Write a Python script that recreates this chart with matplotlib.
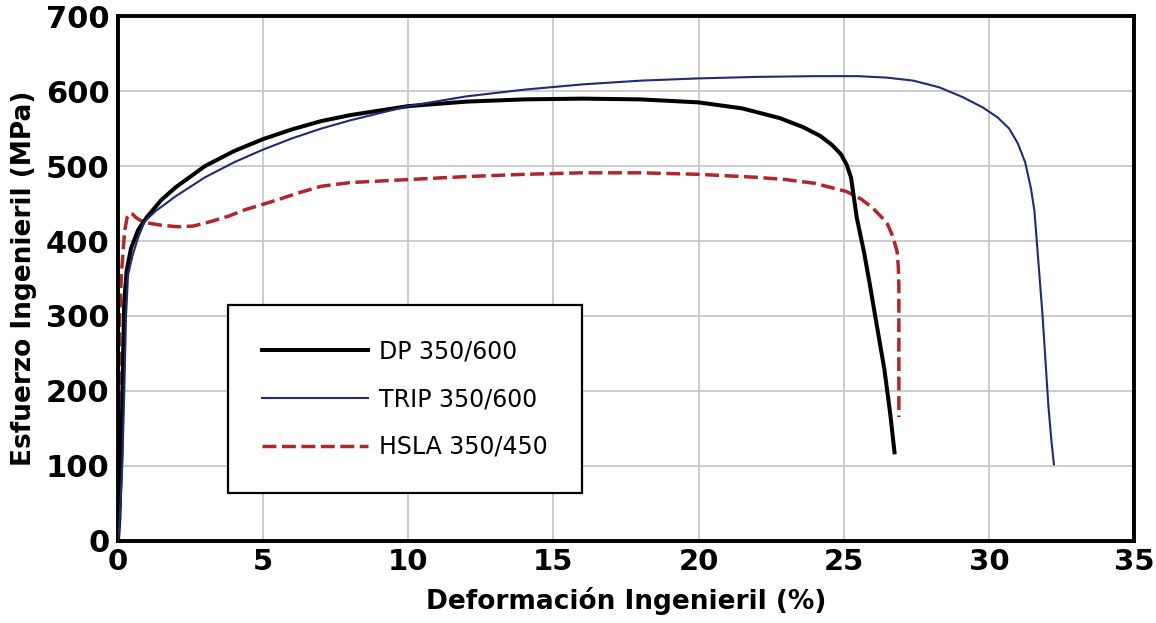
import matplotlib
matplotlib.use('Agg')
import matplotlib.pyplot as plt

# Curvas esfuerzo-deformacion
dp_x = [0, 0.05, 0.12, 0.18, 0.22, 0.3, 0.45, 0.7, 1.0, 1.5, 2, 3, 4, 5, 6, 7, 8, 10, 12, 14,
        16, 18, 20, 21.5, 22.8, 23.6, 24.2, 24.6, 24.9, 25.1, 25.25, 25.45, 25.7, 25.9, 26.15,
        26.4, 26.6, 26.75]
dp_y = [0, 30, 120, 250, 320, 360, 390, 415, 432, 455, 472, 500, 520, 536, 549, 560, 568, 580, 586, 589,
        590, 589, 585, 577, 564, 552, 540, 528, 516, 502, 485, 431, 385, 342, 285,
        229, 170, 118]

trip_x = [0, 0.05, 0.15, 0.22, 0.28, 0.35, 0.5, 0.7, 0.92, 1.3, 2, 3, 4, 5, 6, 7, 8, 10, 12, 14,
          16, 18, 20, 22, 24, 25.5, 26.5, 27.4, 28.3, 29.1, 29.8, 30.3, 30.7, 31.0, 31.25, 31.45,
          31.57, 31.65, 31.75, 31.85, 31.95, 32.05, 32.15, 32.24]
trip_y = [0, 20, 100, 200, 300, 355, 380, 405, 426, 440, 460, 485, 505, 522, 537, 550, 561, 580, 593, 602,
          609, 614, 617, 619, 620, 620, 618, 614, 605, 592, 578, 565, 550, 530, 505, 470,
          440, 400, 350, 300, 240, 180, 135, 102]

hsla_x = [0, 0.03, 0.06, 0.12, 0.23, 0.32, 0.4, 0.5, 0.63, 0.8, 1.04, 1.5, 2.07, 2.6, 3.2, 3.8, 4.4,
          5.0, 5.5, 6.2, 7, 8, 9, 10, 12, 14, 16, 18, 20, 22, 23, 24, 25.1, 25.6, 26.0, 26.3,
          26.5, 26.65, 26.75, 26.84, 26.88, 26.9, 26.9]
hsla_y = [0, 170, 300, 355, 413, 432, 437, 436, 431, 427, 424, 421, 419, 420, 426, 433, 442,
          449, 455, 464, 473, 478, 480, 482, 486, 489, 491, 491, 489, 485, 482, 477, 466, 456, 444, 432,
          423, 410, 398, 386, 365, 341, 165]

labels = ['DP 350/600', 'TRIP 350/600', 'HSLA 350/450']
x_ticks = [0, 5, 10, 15, 20, 25, 30, 35]
y_ticks = [0, 100, 200, 300, 400, 500, 600, 700]

fig = plt.figure(figsize=(11.56, 6.23), dpi=100)
ax = fig.add_axes([0.102, 0.132, 0.879, 0.842])

ax.plot(dp_x, dp_y, color='black', lw=2.9, label=labels[0], zorder=3)
ax.plot(trip_x, trip_y, color='#1f2a78', lw=1.5, label=labels[1], zorder=4)
ax.plot(hsla_x, hsla_y, color='#b3242b', lw=2.5, dashes=(4, 1.6), label=labels[2], zorder=2)

ax.set_xlim(0, 35)
ax.set_ylim(0, 700)
ax.set_xticks(x_ticks)
ax.set_yticks(y_ticks)
ax.grid(True, color='#c8c8c8', lw=1.3)
ax.set_axisbelow(True)
ax.tick_params(length=0)
ax.tick_params(axis='x', pad=5, labelsize=21)
ax.tick_params(axis='y', pad=6, labelsize=22)
for lab in ax.get_xticklabels() + ax.get_yticklabels():
    lab.set_fontweight('bold')
for sp in ax.spines.values():
    sp.set_linewidth(2.8)

ax.set_xlabel('Deformación Ingenieril (%)', fontsize=19, fontweight='bold', labelpad=8)
ax.set_ylabel('Esfuerzo Ingenieril (MPa)', fontsize=19, fontweight='bold', labelpad=6)

leg = ax.legend(loc='lower left', bbox_to_anchor=(0.108, 0.091), borderaxespad=0,
                fontsize=17, fancybox=False, edgecolor='black', framealpha=1,
                handlelength=4.5, handletextpad=0.45, labelspacing=1.0, borderpad=1.45)
leg.get_frame().set_linewidth(1.6)

fig.savefig('out.png', dpi=100)
